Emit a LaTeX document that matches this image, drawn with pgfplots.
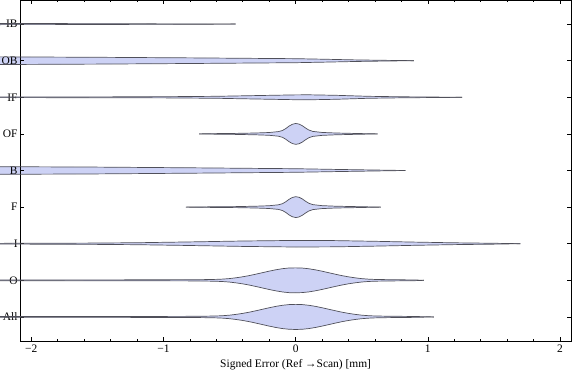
\documentclass[border=0pt]{standalone}
\usepackage{fontspec}
\setmainfont{Liberation Serif}
\usepackage{pgfplots}
\usepackage{pgfplotstable}
\pgfplotsset{compat=1.18}
\usepgfplotslibrary{fillbetween}

\definecolor{vfill}{RGB}{205,210,245}
\definecolor{vedge}{RGB}{80,80,90}

\pgfplotsset{
  layers/labelstop/.define layer set={
    axis background,axis grid,pre main,main,axis ticks,axis lines,axis tick labels,axis descriptions,axis foreground
  }{},
}

% half-width profiles (x, half width in category units)
\pgfplotstableread{
x w
-2.40 0.010
-1.50 0.012
-1.00 0.014
-0.80 0.016
-0.70 0.019
-0.60 0.026
-0.55 0.034
-0.50 0.048
-0.45 0.070
-0.40 0.097
-0.35 0.130
-0.30 0.169
-0.25 0.210
-0.20 0.251
-0.15 0.288
-0.10 0.318
-0.05 0.337
0.00 0.343
0.05 0.337
0.10 0.318
0.15 0.288
0.20 0.251
0.25 0.210
0.30 0.169
0.35 0.130
0.40 0.097
0.45 0.070
0.50 0.048
0.55 0.034
0.60 0.026
0.70 0.019
0.80 0.016
0.90 0.012
1.045 0.000
}\tAll

\pgfplotstableread{
x w
-2.40 0.010
-1.50 0.012
-1.00 0.014
-0.80 0.016
-0.70 0.019
-0.60 0.026
-0.55 0.034
-0.50 0.048
-0.45 0.070
-0.40 0.097
-0.35 0.130
-0.30 0.169
-0.25 0.210
-0.20 0.251
-0.15 0.288
-0.10 0.318
-0.05 0.337
0.00 0.340
0.05 0.335
0.10 0.316
0.15 0.286
0.20 0.249
0.25 0.208
0.30 0.167
0.35 0.128
0.40 0.095
0.45 0.068
0.50 0.046
0.55 0.032
0.60 0.024
0.70 0.018
0.80 0.014
0.90 0.010
0.97 0.000
}\tO

\pgfplotstableread{
x w
-2.40 0.008
-1.60 0.016
-1.20 0.027
-0.80 0.049
-0.40 0.074
0.00 0.090
0.30 0.085
0.60 0.066
0.90 0.044
1.20 0.025
1.50 0.012
1.70 0.000
}\tI

\pgfplotstableread{
x w
-0.83 0.000
-0.60 0.010
-0.45 0.014
-0.30 0.025
-0.20 0.038
-0.13 0.063
-0.10 0.093
-0.075 0.145
-0.05 0.213
-0.025 0.263
0.00 0.285
0.025 0.270
0.05 0.225
0.075 0.160
0.10 0.105
0.13 0.068
0.20 0.040
0.30 0.025
0.45 0.014
0.645 0.000
}\tF

\pgfplotstableread{
x w
-2.40 0.107
-1.50 0.093
-0.80 0.074
-0.30 0.058
0.00 0.049
0.30 0.030
0.55 0.016
0.83 0.000
}\tB

\pgfplotstableread{
x w
-0.73 0.000
-0.60 0.008
-0.45 0.014
-0.30 0.025
-0.20 0.038
-0.13 0.063
-0.10 0.093
-0.075 0.145
-0.05 0.213
-0.025 0.263
0.00 0.285
0.025 0.270
0.05 0.225
0.075 0.160
0.10 0.105
0.13 0.068
0.20 0.040
0.30 0.025
0.45 0.012
0.62 0.000
}\tOF

\pgfplotstableread{
x w
-2.40 0.008
-1.50 0.011
-1.00 0.016
-0.60 0.027
-0.30 0.047
0.00 0.066
0.10 0.068
0.30 0.055
0.55 0.027
0.80 0.014
1.26 0.000
}\tIF

\pgfplotstableread{
x w
-2.40 0.107
-1.50 0.093
-0.80 0.077
-0.30 0.063
0.00 0.055
0.20 0.041
0.45 0.022
0.65 0.011
0.894 0.000
}\tOB

\pgfplotstableread{
x w
-2.40 0.016
-1.80 0.014
-1.20 0.008
-0.455 0.000
}\tIB

\newcommand\violin[3]{%
  \addplot[vedge, line width=0.7bp, name path=u#3] table[x=x, y expr=#2+\thisrow{w}] {#1};
  \addplot[vedge, line width=0.7bp, name path=l#3] table[x=x, y expr=#2-\thisrow{w}] {#1};
  \addplot[vfill, draw=none] fill between[of=u#3 and l#3];
}

\begin{document}
\begin{tikzpicture}
\begin{axis}[
  name=ax,
  scale only axis,
  width=550.7bp, height=341bp,
  xmin=-2.083, xmax=2.083,
  ymin=0.342, ymax=9.658,
  clip=false,
  set layers=labelstop,
  axis line style={line width=0.8bp},
  tick style={black, line width=0.6bp},
  major tick length=4bp,
  minor tick length=2bp,
  tick align=inside,
  xtick={-2,-1,0,1,2},
  xticklabels={−2,−1,0,1,2},
  minor x tick num=4,
  ytick={1,2,3,4,5,6,7,8,9},
  yticklabels={All,O,I,F,B,OF,IF,OB,IB},
  every tick label/.append style={font=\fontsize{11.5}{13}\selectfont},
  yticklabel style={inner sep=1.5bp, xshift=-1bp},
  xlabel={Signed Error (Ref →Scan) [mm]},
  label style={font=\fontsize{11.5}{13}\selectfont},
]
\violin{\tAll}{1}{a}
\violin{\tO}{2}{b}
\violin{\tI}{3}{c}
\violin{\tF}{4}{d}
\violin{\tB}{5}{e}
\violin{\tOF}{6}{f}
\violin{\tIF}{7}{g}
\violin{\tOB}{8}{h}
\violin{\tIB}{9}{i}
\end{axis}
\pgfresetboundingbox
\path ([shift={(-20.3bp,-40bp)}]ax.south west) rectangle ([shift={(5bp,0bp)}]ax.north east);
\end{tikzpicture}
\end{document}
